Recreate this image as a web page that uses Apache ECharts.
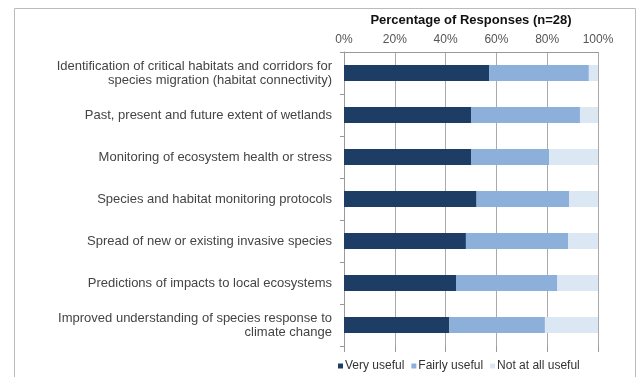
<!DOCTYPE html>
<html>
<head>
<meta charset="utf-8">
<script src="https://cdn.jsdelivr.net/npm/echarts@6/dist/echarts.min.js"></script>
<style>
  html, body { margin: 0; padding: 0; background: #fff; }
  #main { width: 637px; height: 377px; }
</style>
</head>
<body>
<div id="main"></div>
<script>
// категории и значения (%)
const categories = [
  'Identification of critical habitats and corridors for\nspecies migration (habitat connectivity)',
  'Past, present and future extent of wetlands',
  'Monitoring of ecosystem health or stress',
  'Species and habitat monitoring protocols',
  'Spread of new or existing invasive species',
  'Predictions of impacts to local ecosystems',
  'Improved understanding of species response to\nclimate change'
];
const veryUseful = [57.1, 50.0, 50.0, 52.2, 48.0, 44.1, 41.5];
const fairlyUseful = [39.3, 42.9, 30.8, 36.5, 40.3, 39.9, 37.6];
const notUseful = [3.6, 7.1, 19.2, 11.3, 11.7, 16.0, 20.9];
const ticks = [0, 20, 40, 60, 80, 100];

const font = 'Liberation Sans, Arial, sans-serif';
let chart = echarts.init(document.getElementById('main'));

chart.setOption({
    animation: false,
    textStyle: { fontFamily: font },
    title: {
        text: 'Percentage of Responses (n=28)',
        left: 466, top: 9, textAlign: 'center',
        textStyle: { fontSize: 13, fontWeight: 'bold', color: '#111', fontFamily: font }
    },
    legend: {
        left: 333, top: 355,
        itemWidth: 5, itemHeight: 5, itemGap: 7,
        icon: 'rect',
        textStyle: { fontSize: 12, color: '#333', padding: [0, 0, 0, -3] },
        data: ['Very useful', 'Fairly useful', 'Not at all useful']
    },
    grid: { left: 344, right: 39, top: 52, height: 294 },
    xAxis: [
        {
            type: 'value', position: 'top', min: 0, max: 100, interval: 20,
            axisLine: { show: true, lineStyle: { color: '#999' } },
            axisTick: { show: false },
            axisLabel: {
                color: '#555', fontSize: 12, margin: 6,
                formatter: v => ticks.includes(v) ? v + '%' : ''
            },
            splitLine: { show: true, lineStyle: { color: '#aaa', width: 1 } }
        },
        {
            type: 'value', position: 'bottom', min: 0, max: 100, interval: 20,
            axisLine: { show: false },
            axisTick: { show: true, length: 6, lineStyle: { color: '#999' } },
            axisLabel: { show: false },
            splitLine: { show: false }
        }
    ],
    yAxis: {
        type: 'category', inverse: true, data: categories,
        axisLine: { show: true, lineStyle: { color: '#999' } },
        axisTick: { show: true, length: 4, lineStyle: { color: '#999' } },
        axisLabel: { color: '#444', fontSize: 13, margin: 12, lineHeight: 14, align: 'right' }
    },
    series: [
        { name: 'Very useful', type: 'bar', stack: 'a', data: veryUseful, barWidth: 16,
          itemStyle: { color: '#1d3d65' } },
        { name: 'Fairly useful', type: 'bar', stack: 'a', data: fairlyUseful, barWidth: 16,
          itemStyle: { color: '#8db0db' } },
        { name: 'Not at all useful', type: 'bar', stack: 'a', data: notUseful, barWidth: 16,
          itemStyle: { color: '#dce7f4' } }
    ],
    graphic: [
        { type: 'rect', left: 12, top: 6, z: -1,
          shape: { width: 621, height: 380 },
          style: { fill: 'none', stroke: '#bbb', lineWidth: 1 } }
    ]
});
</script>
</body>
</html>
